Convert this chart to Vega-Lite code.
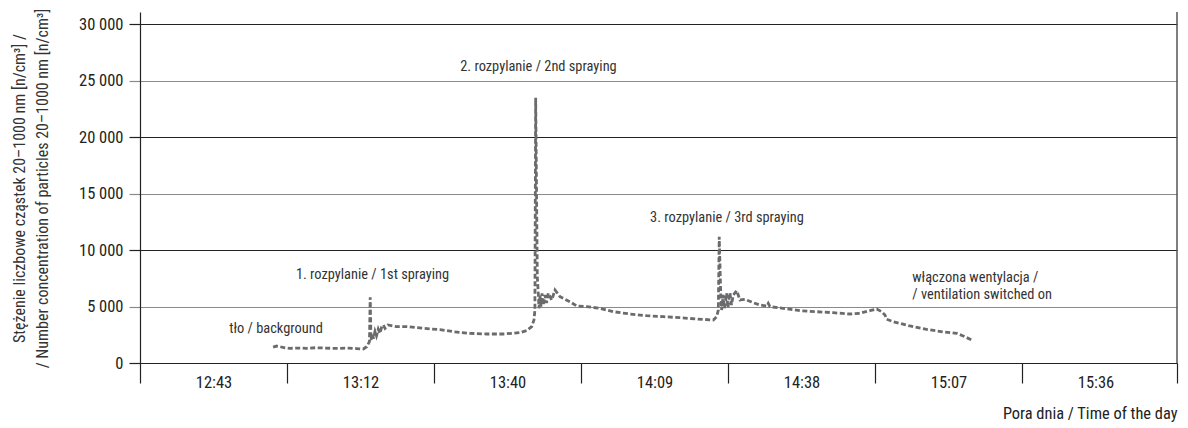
{
  "$schema": "https://vega.github.io/schema/vega-lite/v6.json",
  "width": 1037,
  "height": 351,
  "autosize": {"type": "none"},
  "padding": {"left": 140, "top": 12, "right": 11, "bottom": 65},
  "background": "white",
  "config": {
    "view": {"stroke": null},
    "font": "Roboto Condensed, DejaVu Sans Condensed, sans-serif"
  },
  "datasets": {
    "series": [
      {"min": 54.7, "n": 1400}, {"min": 55.4, "n": 1500}, {"min": 56.1, "n": 1440}, {"min": 57.0, "n": 1350},
      {"min": 58.0, "n": 1300}, {"min": 59.5, "n": 1320}, {"min": 61.3, "n": 1300}, {"min": 63.0, "n": 1350},
      {"min": 64.5, "n": 1330}, {"min": 66.2, "n": 1300}, {"min": 67.8, "n": 1300}, {"min": 69.5, "n": 1320},
      {"min": 71.0, "n": 1280}, {"min": 72.4, "n": 1240}, {"min": 73.06, "n": 1440}, {"min": 73.6, "n": 1885},
      {"min": 73.75, "n": 5815}, {"min": 73.9, "n": 2035}, {"min": 74.2, "n": 2600}, {"min": 74.39, "n": 2150},
      {"min": 74.69, "n": 2800}, {"min": 74.98, "n": 2400}, {"min": 75.33, "n": 3000}, {"min": 75.67, "n": 2626},
      {"min": 76.0, "n": 3200}, {"min": 76.32, "n": 3363}, {"min": 76.65, "n": 3068}, {"min": 77.24, "n": 3363},
      {"min": 78.94, "n": 3215}, {"min": 80.9, "n": 3215}, {"min": 84.16, "n": 3068}, {"min": 87.44, "n": 2950},
      {"min": 90.05, "n": 2773}, {"min": 93.32, "n": 2626}, {"min": 96.6, "n": 2567}, {"min": 99.85, "n": 2567},
      {"min": 103.13, "n": 2685}, {"min": 104.44, "n": 2862}, {"min": 105.42, "n": 3215}, {"min": 105.87, "n": 3805},
      {"min": 106.05, "n": 4690}, {"min": 106.2, "n": 23480}, {"min": 106.52, "n": 7640}, {"min": 106.71, "n": 6170},
      {"min": 106.85, "n": 4840}, {"min": 107.04, "n": 6000}, {"min": 107.24, "n": 4985}, {"min": 107.44, "n": 6170},
      {"min": 107.69, "n": 5130}, {"min": 108.03, "n": 6020}, {"min": 108.32, "n": 5300}, {"min": 108.67, "n": 6170},
      {"min": 109.34, "n": 5575}, {"min": 109.99, "n": 6460}, {"min": 110.97, "n": 5870}, {"min": 112.93, "n": 5425},
      {"min": 114.24, "n": 5045}, {"min": 116.2, "n": 4985}, {"min": 118.82, "n": 4840}, {"min": 121.42, "n": 4540},
      {"min": 124.7, "n": 4335}, {"min": 127.97, "n": 4190}, {"min": 131.23, "n": 4100}, {"min": 134.5, "n": 4010},
      {"min": 137.78, "n": 3895}, {"min": 141.04, "n": 3805}, {"min": 141.7, "n": 4100}, {"min": 142.02, "n": 4690},
      {"min": 142.2, "n": 11180}, {"min": 142.48, "n": 6310}, {"min": 142.67, "n": 4690}, {"min": 142.99, "n": 6020},
      {"min": 143.22, "n": 4840}, {"min": 143.65, "n": 6170}, {"min": 143.91, "n": 4900}, {"min": 144.3, "n": 6220},
      {"min": 144.6, "n": 5130}, {"min": 144.95, "n": 6020}, {"min": 145.62, "n": 6400}, {"min": 146.26, "n": 5575},
      {"min": 147.24, "n": 5635}, {"min": 148.87, "n": 5340}, {"min": 150.19, "n": 5130}, {"min": 151.5, "n": 5045},
      {"min": 151.81, "n": 5280}, {"min": 152.15, "n": 4985}, {"min": 154.76, "n": 4840}, {"min": 158.04, "n": 4630},
      {"min": 161.31, "n": 4540}, {"min": 164.57, "n": 4450}, {"min": 167.84, "n": 4335}, {"min": 169.8, "n": 4400},
      {"min": 171.76, "n": 4630}, {"min": 173.08, "n": 4780}, {"min": 174.06, "n": 4540}, {"min": 174.71, "n": 4250},
      {"min": 175.04, "n": 3870}, {"min": 176.34, "n": 3655}, {"min": 179.61, "n": 3275}, {"min": 182.88, "n": 2980},
      {"min": 186.14, "n": 2745}, {"min": 188.77, "n": 2626}, {"min": 190.06, "n": 2390}, {"min": 192.02, "n": 1975}
    ],
    "labels_c": [
      {"min": 55.27, "n": 2655, "label": "tło / background"},
      {"min": 74.2, "n": 7405, "label": "1. rozpylanie / 1st spraying"},
      {"min": 106.75, "n": 25870, "label": "2. rozpylanie / 2nd spraying"},
      {"min": 143.72, "n": 12505, "label": "3. rozpylanie / 3rd spraying"}
    ],
    "labels_l": [
      {"min": 180.06, "n": 7195, "label": "włączona wentylacja /"},
      {"min": 180.06, "n": 5637, "label": "/ ventilation switched on"}
    ]
  },
  "layer": [
    {
      "data": {"name": "series"},
      "mark": {"type": "line", "color": "#6b6b6d", "strokeWidth": 2.8, "strokeDash": [5, 2.5]},
      "encoding": {
        "x": {
          "field": "min", "type": "quantitative",
          "scale": {"domain": [28.6, 231.98], "nice": false, "zero": false},
          "axis": {
            "title": "Pora dnia / Time of the day",
            "values": [28.6, 57.43, 86.26, 115.09, 143.92, 172.75, 201.58, 231.98],
            "labelExpr": "datum.value < 40 ? '12:43' : datum.value < 70 ? '13:12' : datum.value < 100 ? '13:40' : datum.value < 130 ? '14:09' : datum.value < 160 ? '14:38' : datum.value < 190 ? '15:07' : datum.value < 220 ? '15:36' : ''",
            "labelOffset": 73.5,
            "labelFlush": false,
            "labelOverlap": false,
            "labelBaseline": "alphabetic",
            "labelPadding": 4,
            "labelFontSize": 16.5,
            "labelColor": "#222",
            "tickSize": 20,
            "tickColor": "#222",
            "tickWidth": 1.2,
            "domainColor": "#222",
            "domainWidth": 1.2,
            "grid": false,
            "titleX": 1037,
            "titleY": 55,
            "titleAlign": "right",
            "titleBaseline": "alphabetic",
            "titleFontSize": 16.4,
            "titleFontWeight": "normal",
            "titleColor": "#222"
          }
        },
        "y": {
          "field": "n", "type": "quantitative",
          "scale": {"domain": [0, 31062], "nice": false},
          "axis": {
            "title": ["Stężenie liczbowe cząstek 20–1000 nm [n/cm³] /", "/ Number concentration of particles 20–1000 nm [n/cm³]"],
            "values": [0, 5000, 10000, 15000, 20000, 25000, 30000],
            "labelExpr": "replace(format(datum.value, ','), ',', ' ')",
            "labelFontSize": 16.5,
            "labelColor": "#222",
            "labelPadding": 6,
            "grid": true,
            "gridColor": {"condition": {"test": "datum.value % 10000 === 0", "value": "#222"}, "value": "#8a8a8a"},
            "gridWidth": 1.2,
            "tickColor": {"condition": {"test": "datum.value % 10000 === 0", "value": "#222"}, "value": "#8a8a8a"},
            "tickSize": 11,
            "tickWidth": 1.2,
            "domainColor": "#222",
            "domainWidth": 1.2,
            "titleFontSize": 16,
            "titleFontWeight": "normal",
            "titleColor": "#333",
            "titleLineHeight": 23,
            "titleAngle": -90,
            "titleX": -116,
            "titleY": 176,
            "titleAlign": "center",
            "titleBaseline": "alphabetic"
          }
        }
      }
    },
    {
      "data": {"name": "labels_c"},
      "mark": {"type": "text", "align": "center", "baseline": "alphabetic", "fontSize": 14.4, "color": "#333"},
      "encoding": {
        "x": {"field": "min", "type": "quantitative"},
        "y": {"field": "n", "type": "quantitative"},
        "text": {"field": "label"}
      }
    },
    {
      "data": {"name": "labels_l"},
      "mark": {"type": "text", "align": "left", "baseline": "alphabetic", "fontSize": 14.4, "color": "#333"},
      "encoding": {
        "x": {"field": "min", "type": "quantitative"},
        "y": {"field": "n", "type": "quantitative"},
        "text": {"field": "label"}
      }
    },
    {
      "data": {"values": [{}]},
      "mark": {"type": "rule", "color": "#555", "strokeWidth": 1.5},
      "encoding": {"x": {"datum": 231.98}}
    }
  ]
}
